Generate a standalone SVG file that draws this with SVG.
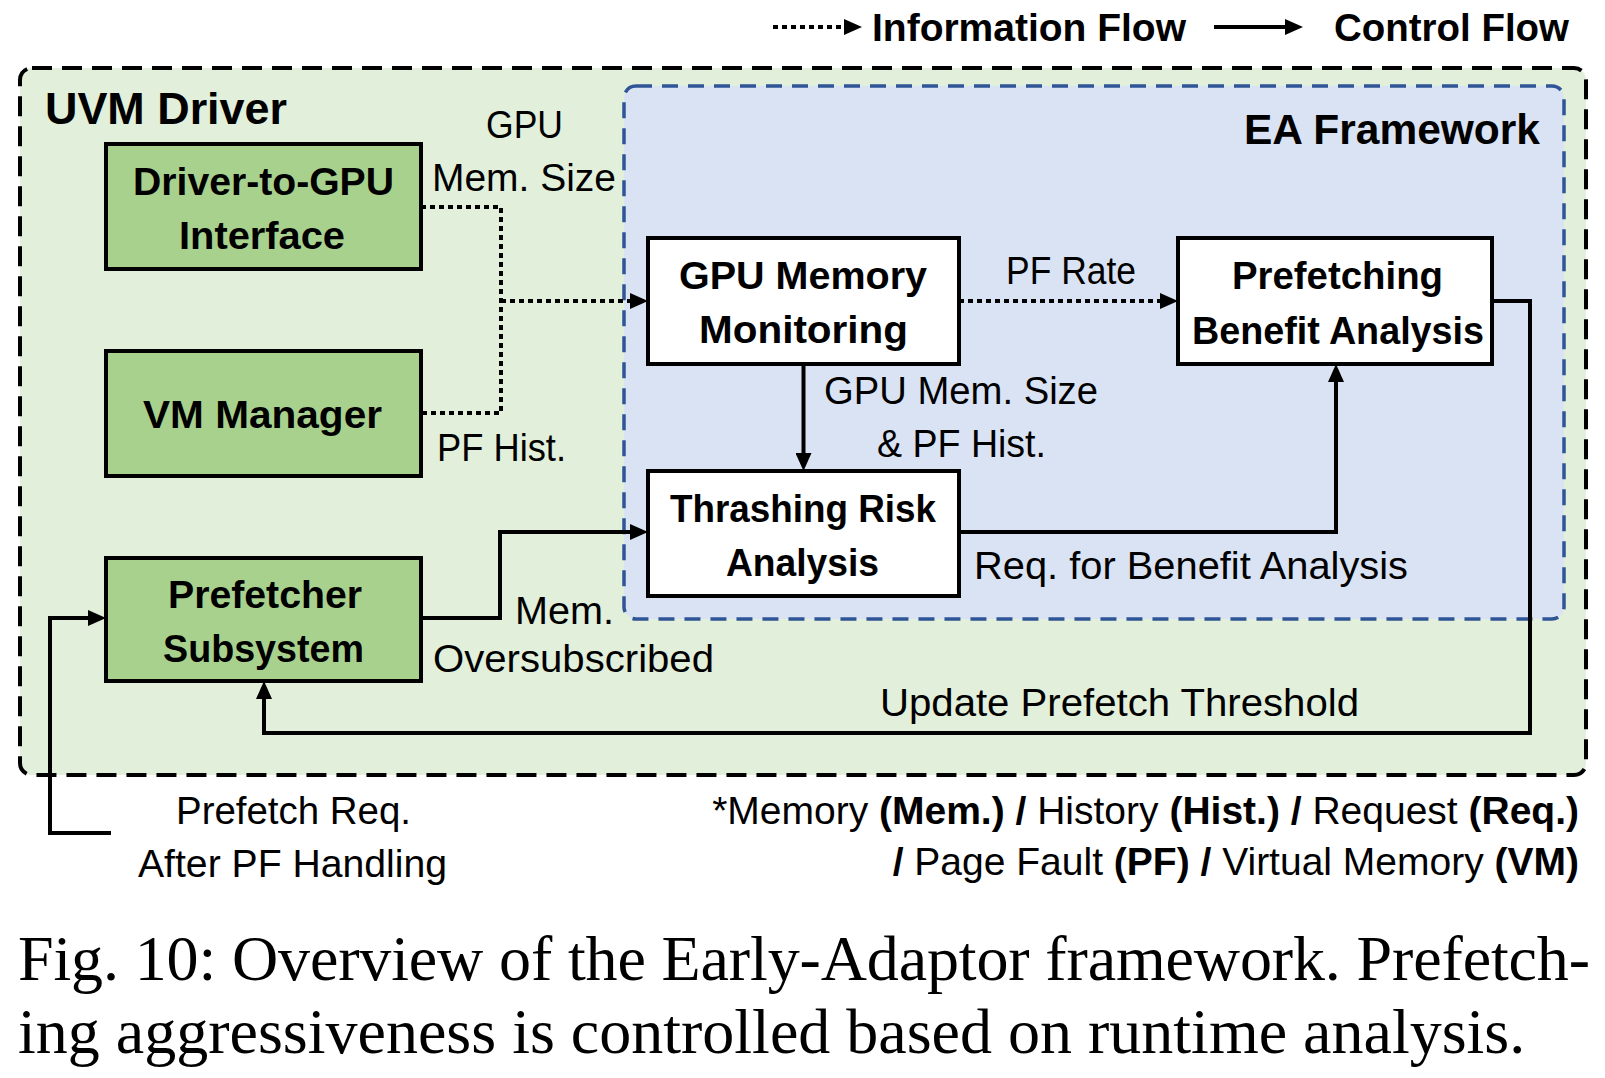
<svg xmlns="http://www.w3.org/2000/svg" width="1605" height="1078" viewBox="0 0 1605 1078">
<style>
.box{stroke:#000;stroke-width:4}
.g{fill:#A9D18E}
.w{fill:#fff}
.bt{font-family:"Liberation Sans",Arial,sans-serif;font-weight:bold;font-size:39px;fill:#000}
.lt{font-family:"Liberation Sans",Arial,sans-serif;font-size:38px;fill:#000}
.hd{font-family:"Liberation Sans",Arial,sans-serif;font-weight:bold;fill:#000}
.fn{font-family:"Liberation Sans",Arial,sans-serif;font-size:39px;fill:#000}
.b{font-weight:bold}
.cap{font-family:"Liberation Serif","Times New Roman",serif;font-size:64px;fill:#000}
.solid{fill:none;stroke:#000;stroke-width:4}
.dot{fill:none;stroke:#000;stroke-width:4;stroke-dasharray:5 4}
</style>
<defs>
<marker id="ah" markerUnits="userSpaceOnUse" markerWidth="18" markerHeight="16" refX="8" refY="8" orient="auto">
<path d="M0,0 L18,8 L0,16 z" fill="#000"/>
</marker>
</defs>

<g id="legend">
<path class="dot" d="M773,27 H852" marker-end="url(#ah)"/>
<text class="hd" x="872" y="41" font-size="38" textLength="314" lengthAdjust="spacingAndGlyphs">Information Flow</text>
<path class="solid" d="M1214,27 H1293" marker-end="url(#ah)"/>
<text class="hd" x="1334" y="41" font-size="38" textLength="235" lengthAdjust="spacingAndGlyphs">Control Flow</text>
</g>

<g id="uvm-driver">
<rect x="20" y="68" width="1566" height="707" rx="12" fill="#E2EFDA" stroke="#000" stroke-width="4" stroke-dasharray="20 10"/>
<text class="hd" x="45" y="124" font-size="44" textLength="242" lengthAdjust="spacingAndGlyphs">UVM Driver</text>
</g>

<g id="ea-framework">
<rect x="624" y="86" width="940" height="533" rx="12" fill="#DAE3F3" stroke="#2F5597" stroke-width="3.5" stroke-dasharray="16 10"/>
<text class="hd" x="1244" y="144" font-size="43" textLength="296" lengthAdjust="spacingAndGlyphs">EA Framework</text>
</g>

<g id="connectors">
<path class="dot" d="M421,207 H501 V413 H421"/>
<path class="dot" d="M501,301 H638" marker-end="url(#ah)"/>
<path class="dot" d="M959,301 H1168" marker-end="url(#ah)"/>
<path class="solid" d="M803.5,364 V461" marker-end="url(#ah)"/>
<path class="solid" d="M959,532 H1336 V374" marker-end="url(#ah)"/>
<path class="solid" d="M1492,301 H1530 V733 H264 V691" marker-end="url(#ah)"/>
<path class="solid" d="M421,618 H500 V532 H638" marker-end="url(#ah)"/>
<path class="solid" d="M111,833 H50 V618 H96" marker-end="url(#ah)"/>
</g>

<g id="connector-labels">
<text class="lt" x="486" y="138" textLength="77" lengthAdjust="spacingAndGlyphs">GPU</text>
<text class="lt" x="432" y="191" textLength="184" lengthAdjust="spacingAndGlyphs">Mem. Size</text>
<text class="lt" x="437" y="461" textLength="129" lengthAdjust="spacingAndGlyphs">PF Hist.</text>
<text class="lt" x="1006" y="284" textLength="130" lengthAdjust="spacingAndGlyphs">PF Rate</text>
<text class="lt" x="824" y="404" textLength="274" lengthAdjust="spacingAndGlyphs">GPU Mem. Size</text>
<text class="lt" x="877" y="457" textLength="169" lengthAdjust="spacingAndGlyphs">&amp; PF Hist.</text>
<text class="lt" x="974" y="579" textLength="434" lengthAdjust="spacingAndGlyphs">Req. for Benefit Analysis</text>
<text class="lt" x="515" y="624" textLength="99" lengthAdjust="spacingAndGlyphs">Mem.</text>
<text class="lt" x="433" y="672" textLength="281" lengthAdjust="spacingAndGlyphs">Oversubscribed</text>
<text class="lt" x="880" y="716" textLength="479" lengthAdjust="spacingAndGlyphs">Update Prefetch Threshold</text>
<text class="lt" x="176" y="824" textLength="235" lengthAdjust="spacingAndGlyphs">Prefetch Req.</text>
<text class="lt" x="138" y="877" textLength="309" lengthAdjust="spacingAndGlyphs">After PF Handling</text>
</g>

<g id="driver-to-gpu">
<rect class="box g" x="106" y="144" width="315" height="125"/>
<text class="bt" x="133" y="195" textLength="261" lengthAdjust="spacingAndGlyphs">Driver-to-GPU</text>
<text class="bt" x="179" y="249" textLength="166" lengthAdjust="spacingAndGlyphs">Interface</text>
</g>

<g id="vm-manager">
<rect class="box g" x="106" y="351" width="315" height="125"/>
<text class="bt" x="143" y="428" textLength="239" lengthAdjust="spacingAndGlyphs">VM Manager</text>
</g>

<g id="prefetcher-subsystem">
<rect class="box g" x="106" y="558" width="315" height="123"/>
<text class="bt" x="168" y="608" textLength="194" lengthAdjust="spacingAndGlyphs">Prefetcher</text>
<text class="bt" x="163" y="662" textLength="201" lengthAdjust="spacingAndGlyphs">Subsystem</text>
</g>

<g id="gpu-memory-monitoring">
<rect class="box w" x="648" y="238" width="311" height="126"/>
<text class="bt" x="679" y="289" textLength="248" lengthAdjust="spacingAndGlyphs">GPU Memory</text>
<text class="bt" x="699" y="343" textLength="209" lengthAdjust="spacingAndGlyphs">Monitoring</text>
</g>

<g id="prefetching-benefit-analysis">
<rect class="box w" x="1178" y="238" width="314" height="126"/>
<text class="bt" x="1232" y="289" textLength="211" lengthAdjust="spacingAndGlyphs">Prefetching</text>
<text class="bt" x="1192" y="344" textLength="292" lengthAdjust="spacingAndGlyphs">Benefit Analysis</text>
</g>

<g id="thrashing-risk-analysis">
<rect class="box w" x="648" y="471" width="311" height="125"/>
<text class="bt" x="670" y="522" textLength="266" lengthAdjust="spacingAndGlyphs">Thrashing Risk</text>
<text class="bt" x="726" y="576" textLength="153" lengthAdjust="spacingAndGlyphs">Analysis</text>
</g>

<g id="footnote">
<text class="fn" x="1579" y="824" text-anchor="end"><tspan>*Memory </tspan><tspan class="b">(Mem.) / </tspan><tspan>History </tspan><tspan class="b">(Hist.) / </tspan><tspan>Request </tspan><tspan class="b">(Req.)</tspan></text>
<text class="fn" x="1579" y="875" text-anchor="end"><tspan class="b">/ </tspan><tspan>Page Fault </tspan><tspan class="b">(PF) / </tspan><tspan>Virtual Memory </tspan><tspan class="b">(VM)</tspan></text>
</g>

<g id="caption">
<text class="cap" x="18" y="980" textLength="1572" lengthAdjust="spacing">Fig. 10: Overview of the Early-Adaptor framework. Prefetch-</text>
<text class="cap" x="18" y="1053">ing aggressiveness is controlled based on runtime analysis.</text>
</g>
</svg>
